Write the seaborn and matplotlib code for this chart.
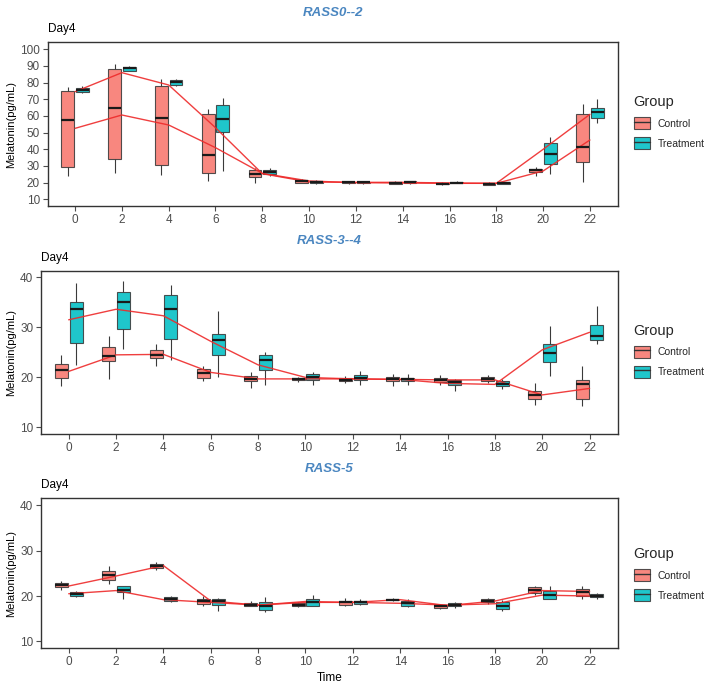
import numpy as np
import pandas as pd
import matplotlib
matplotlib.use("Agg")
import matplotlib.pyplot as plt
import seaborn as sns
from matplotlib.patches import Patch
from matplotlib.lines import Line2D
from matplotlib.legend_handler import HandlerTuple

sns.set_theme(style="white")
plt.rcParams['font.family'] = ['Liberation Sans', 'DejaVu Sans']

times = [0, 2, 4, 6, 8, 10, 12, 14, 16, 18, 20, 22]
groups = ["Control", "Treatment"]
titles = ["RASS0--2", "RASS-3--4", "RASS-5"]

# box stats per time: whisker low, q1, median, q3, whisker high
p1_ctrl_lo = [24, 25.6, 24.4, 21.2, 20, 19.8, 19.4, 19.2, 18.8, 18.6, 24, 20.4]
p1_ctrl_q1 = [29.2, 34.2, 30.6, 26, 23.2, 20, 19.6, 19.4, 19, 18.8, 26.2, 32.2]
p1_ctrl_md = [57.6, 64.6, 59, 36.6, 25, 21, 20.2, 19.8, 19.4, 19.2, 27.4, 41.4]
p1_ctrl_q3 = [75.2, 88, 78.2, 61.2, 27.4, 21.8, 20.6, 20.4, 20, 19.8, 28.4, 61.2]
p1_ctrl_hi = [77.6, 91.2, 82.2, 64.4, 28.6, 22.2, 21, 20.8, 20.4, 20.2, 29.6, 67.2]
p1_trt_lo = [73.6, 86.8, 78, 27.2, 24.2, 19.2, 19.4, 19.4, 19.6, 19.2, 25.2, 56]
p1_trt_q1 = [74.4, 87.2, 78.4, 50.2, 25, 19.6, 19.8, 19.8, 19.8, 19.4, 31.2, 59]
p1_trt_md = [75.8, 88.6, 80.4, 58.2, 26.2, 20.2, 20.2, 20.4, 20, 19.8, 37, 62.2]
p1_trt_q3 = [77, 89.6, 81.6, 66.8, 27.6, 21, 20.6, 20.8, 20.4, 20.2, 43.6, 65]
p1_trt_hi = [78, 90, 82.2, 71, 29, 21.4, 21, 21.2, 20.8, 20.6, 47.4, 70.2]
p1_ctrl_mean = [52.6, 60.6, 54.6, 41, 25.6, 21, 20, 19.8, 19.6, 19.6, 27, 45.6]
p1_trt_mean = [74.6, 86, 78.6, 53, 25.4, 20.4, 20.2, 20.2, 19.8, 19.6, 40, 61]

p2_ctrl_lo = [18.3, 19.6, 22.2, 19.3, 17.8, 19.1, 18.9, 18.2, 18.4, 18.8, 14.5, 14.2]
p2_ctrl_q1 = [19.8, 23.3, 23.8, 19.8, 19.2, 19.4, 19.2, 19.2, 19.1, 19.2, 15.6, 15.6]
p2_ctrl_md = [21.4, 24.2, 24.5, 20.8, 19.7, 19.6, 19.5, 19.6, 19.5, 19.6, 16.5, 18.6]
p2_ctrl_q3 = [22.6, 26, 25.5, 21.6, 20.3, 19.8, 19.8, 20, 19.9, 20, 17.3, 19.4]
p2_ctrl_hi = [24.5, 28.3, 26.6, 22.3, 21, 20.1, 20.2, 20.6, 20.4, 20.5, 18.8, 22.2]
p2_trt_lo = [22.4, 25.6, 23.5, 20, 18.4, 18.5, 18.5, 18.4, 17.2, 17.6, 20.3, 26.7]
p2_trt_q1 = [26.8, 29.7, 27.6, 24.5, 21.4, 19.5, 19.4, 19.2, 18.4, 18.3, 23, 27.4]
p2_trt_md = [33.6, 35.1, 33.7, 27.4, 23.5, 20, 19.8, 19.6, 19, 18.7, 24.8, 28.2]
p2_trt_q3 = [35, 37.1, 36.4, 28.7, 24.5, 20.6, 20.4, 19.9, 19.4, 19.2, 26.7, 30.4]
p2_trt_hi = [38.8, 39.3, 38.5, 33.3, 25, 21, 21.2, 20.6, 19.7, 19.7, 30.2, 34.3]
p2_ctrl_mean = [21.2, 24.5, 24.6, 21, 19.7, 19.7, 19.7, 19.6, 19.5, 19.5, 16.5, 17.8]
p2_trt_mean = [31.5, 33.6, 32.3, 27.2, 22.5, 20, 19.7, 19.6, 18.8, 18.6, 25.5, 29]

p3_ctrl_lo = [21.4, 22.7, 25.7, 17.7, 17.7, 17.5, 17.7, 18.9, 17.1, 18.3, 20.2, 19.4]
p3_ctrl_q1 = [21.9, 23.5, 26.1, 18.2, 17.8, 17.7, 18, 19.1, 17.3, 18.6, 20.6, 20.1]
p3_ctrl_md = [22.4, 24.6, 26.6, 18.9, 18, 18, 18.6, 19.2, 17.7, 18.9, 21.3, 20.8]
p3_ctrl_q3 = [22.8, 25.4, 27, 19.4, 18.4, 18.4, 19, 19.4, 18, 19.3, 21.9, 21.5]
p3_ctrl_hi = [23.2, 26.5, 27.4, 19.9, 18.8, 18.6, 19.5, 19.5, 18.2, 19.5, 22.2, 22.1]
p3_trt_lo = [19.7, 19.4, 18.6, 16.7, 16.4, 17.7, 18, 17.5, 17.4, 16.8, 19.3, 19.4]
p3_trt_q1 = [19.9, 20.8, 18.9, 18, 17, 17.9, 18.2, 17.8, 17.7, 17.2, 19.3, 19.7]
p3_trt_md = [20.4, 21.3, 19.3, 18.8, 17.9, 18.6, 18.6, 18.4, 18, 17.9, 20.2, 20.1]
p3_trt_q3 = [20.8, 22.3, 19.7, 19.4, 18.7, 19.3, 19, 18.9, 18.4, 18.6, 21, 20.5]
p3_trt_hi = [21.1, 22.3, 20, 19.5, 19.7, 20.2, 19.3, 19.3, 18.6, 19.2, 22.3, 20.6]
p3_ctrl_mean = [22.2, 24.4, 26.7, 18.9, 18, 18.6, 18.6, 19.2, 17.9, 18.9, 21.2, 21]
p3_trt_mean = [20.5, 21.2, 19.2, 18.6, 18, 18.8, 18.6, 18.4, 18, 18.3, 20.2, 20]

panels = [
    ([p1_ctrl_lo, p1_ctrl_q1, p1_ctrl_md, p1_ctrl_q3, p1_ctrl_hi],
     [p1_trt_lo, p1_trt_q1, p1_trt_md, p1_trt_q3, p1_trt_hi],
     p1_ctrl_mean, p1_trt_mean, [10, 20, 30, 40, 50, 60, 70, 80, 90, 100], (6, 104.4)),
    ([p2_ctrl_lo, p2_ctrl_q1, p2_ctrl_md, p2_ctrl_q3, p2_ctrl_hi],
     [p2_trt_lo, p2_trt_q1, p2_trt_md, p2_trt_q3, p2_trt_hi],
     p2_ctrl_mean, p2_trt_mean, [10, 20, 30, 40], (8.7, 41.3)),
    ([p3_ctrl_lo, p3_ctrl_q1, p3_ctrl_md, p3_ctrl_q3, p3_ctrl_hi],
     [p3_trt_lo, p3_trt_q1, p3_trt_md, p3_trt_q3, p3_trt_hi],
     p3_ctrl_mean, p3_trt_mean, [10, 20, 30, 40], (8.5, 41.5)),
]

palette = {"Control": "#F8766D", "Treatment": "#00BFC4"}

W, H = 708, 684
fig = plt.figure(figsize=(W / 100, H / 100), dpi=100)
fig.patch.set_facecolor("white")

# axes boxes in pixels: left, right, top, bottom
boxes = [(47.7, 618, 42, 206), (41, 618, 270.7, 434), (41, 618, 498.3, 648.3)]
title_y = [13, 240.5, 469]

for i, (ctrl, trt, cmean, tmean, yticks, ylim) in enumerate(panels):
    l, r, t, b = boxes[i]
    ax = fig.add_axes([l / W, 1 - b / H, (r - l) / W, (b - t) / H])

    rows = []
    for g, stats in zip(groups, [ctrl, trt]):
        for j, tm in enumerate(times):
            for s in stats:
                rows.append({"Time": tm, "Group": g, "Melatonin": s[j]})
    df = pd.DataFrame(rows)

    sns.boxplot(data=df, x="Time", y="Melatonin", hue="Group", hue_order=groups,
                palette=palette, saturation=1, native_scale=True, width=0.62, gap=0.12,
                whis=(0, 100), fliersize=0, linecolor="#3a3a3a", linewidth=0.8,
                showcaps=False,
                medianprops={"color": "#1a1a1a", "linewidth": 1.6},
                boxprops={"alpha": 0.88}, legend=False, ax=ax)

    sns.lineplot(x=times, y=cmean, color="#EE2A2A", linewidth=1.0, alpha=0.9, ax=ax)
    sns.lineplot(x=times, y=tmean, color="#EE2A2A", linewidth=1.0, alpha=0.9, ax=ax)

    ax.set_xlim(-1.17, 23.2)
    ax.set_ylim(*ylim)
    ax.set_xticks(times)
    ax.set_xticklabels([str(tm) for tm in times])
    ax.set_yticks(yticks)
    ax.set_yticklabels([str(v) for v in yticks])
    ax.tick_params(axis="both", colors="#4D4D4D", labelsize=8.5, length=3.5, width=0.8,
                   direction="out", bottom=True, left=True, pad=2)
    for sp in ax.spines.values():
        sp.set_visible(True)
        sp.set_color("#333333")
        sp.set_linewidth(1.0)
    ax.grid(False)
    ax.set_facecolor("white")

    ax.set_ylabel("Melatonin(pg/mL)", fontsize=8, color="black", labelpad=3)
    if i == 2:
        ax.set_xlabel("Time", fontsize=8.5, color="black", labelpad=3)
    else:
        ax.set_xlabel("")

    fig.text((l + r) / 2 / W, 1 - title_y[i] / H, titles[i], ha="center", va="center",
             fontsize=9.5, fontweight="bold", fontstyle="italic", color="#4A86C0")
    fig.text(l / W, 1 - (t - 13) / H, "Day4", ha="left", va="center", fontsize=8.5,
             color="black")

    handles = [(Patch(facecolor=palette[g], edgecolor="#3a3a3a", alpha=0.88, linewidth=0.8),
                Line2D([0], [0], color="#333333", linewidth=1.0)) for g in groups]
    leg = ax.legend(handles, groups, title="Group", loc="upper left",
                    bbox_to_anchor=(1.02, 0.7), frameon=False, fontsize=7.5,
                    title_fontsize=10.5, handler_map={tuple: HandlerTuple(ndivide=1)},
                    handlelength=1.6, handleheight=1.4, labelspacing=0.75,
                    borderaxespad=0, handletextpad=0.7)
    leg._legend_box.align = "left"

plt.savefig("out.png", dpi=100, facecolor="white")
